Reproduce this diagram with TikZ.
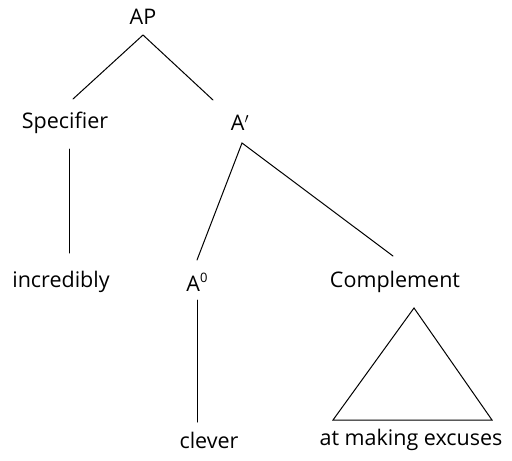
\documentclass[tikz,border=0pt]{standalone}
\usepackage{fontspec}
\setmainfont{Open Sans}
\begin{document}
\begin{tikzpicture}[x=1pt,y=-1pt,
  lbl/.style={inner sep=0pt,font=\fontsize{21.5}{26}\selectfont},
  edge/.style={line width=1pt,line cap=round,line join=miter}]
\useasboundingbox (0,0) rectangle (512,461);
% labels
\node[lbl] (AP) at (143,17) {AP};
\node[lbl] (Spec) at (65,123) {Specifier};
\node[lbl] (Abar) at (240,123) {A$'$};
\node[lbl] (incr) at (61,282) {incredibly};
\node[lbl] (A0) at (197,282) {A\raisebox{0.75ex}{\fontsize{13}{13}\selectfont 0}};
\node[lbl] (Comp) at (395,282) {Complement};
\node[lbl] (clev) at (209,440) {clever};
\node[lbl] (exc) at (411,440) {at making excuses};
% connector ends
\coordinate (APb) at (143,35);
\coordinate (SpecT) at (73,99);
\coordinate (AbarT) at (213,100);
\coordinate (SpecB) at (69,149);
\coordinate (incrT) at (69,253);
\coordinate (AbarB) at (242,143);
\coordinate (A0T) at (197,260);
\coordinate (CompT) at (393,256);
\coordinate (A0B) at (197,300);
\coordinate (clevT) at (197,422);
\coordinate (triT) at (414,308);
\coordinate (triL) at (333,420);
\coordinate (triR) at (492,420);
% connectors
\draw[edge] (SpecT) -- (APb) -- (AbarT);
\draw[edge] (SpecB) -- (incrT);
\draw[edge] (A0T) -- (AbarB) -- (CompT);
\draw[edge] (A0B) -- (clevT);
\draw[edge] (triT) -- (triL) -- (triR) -- cycle;
\end{tikzpicture}
\end{document}
